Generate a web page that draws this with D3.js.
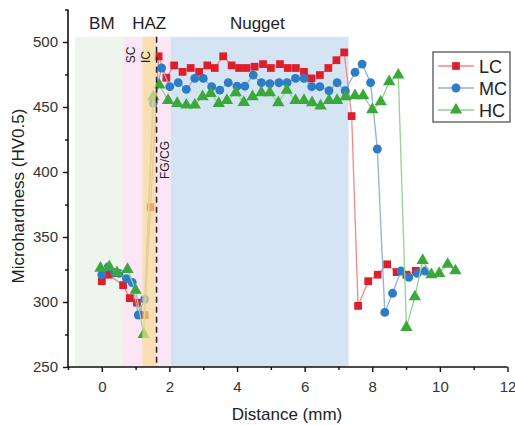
<!DOCTYPE html>
<html><head><meta charset="utf-8">
<script src="https://cdn.jsdelivr.net/npm/d3@7"></script>
<style>body{margin:0;background:#fff;} text{font-family:Arial,"Liberation Sans",sans-serif;}</style>
</head><body><svg id="c" width="515" height="425"></svg>
<script>
const lcX=[0,0.2,0.63,0.83,1.04,1.27,1.44,1.68,1.91,2.14,2.39,2.63,2.88,3.12,3.34,3.59,3.84,4.06,4.28,4.52,4.77,5.0,5.27,5.5,5.74,5.98,6.2,6.45,6.7,6.94,7.17,7.39,7.58,7.88,8.16,8.44,8.72,9.01,9.29];
const lcY=[316,321,313,303,299.5,290,373,489,472.5,482,477,480,477,482,480,489,482,480,480,481,483,480,483,480,480,477,472,474.6,480,486,492,443,297,316,321,329,323,321,324];
const mcX=[0,0.19,0.38,0.51,0.73,0.9,1.08,1.27,1.52,1.77,2.01,2.26,2.5,2.75,3.0,3.25,3.49,3.74,4.0,4.23,4.48,4.72,4.97,5.24,5.48,5.73,5.98,6.21,6.45,6.72,6.96,7.2,7.49,7.7,7.95,8.15,8.37,8.6,8.85,9.08,9.33,9.56];
const mcY=[321,327,322.5,322,318,315,290,302,453,480,465.6,468.7,463.6,472,472,465.6,463,468.7,466,466,474.6,468.7,468,468.7,468.7,472,472,465.6,465.6,462.5,468.7,462.5,476.7,483,468.7,417.7,292,306.7,323.8,319,322,323.8];
const hcX=[-0.04,0.22,0.45,0.76,1.0,1.24,1.52,1.7,1.96,2.23,2.5,2.75,2.98,3.22,3.46,3.7,3.96,4.2,4.46,4.72,4.97,5.22,5.47,5.73,5.98,6.22,6.47,6.72,6.96,7.21,7.49,7.73,8.0,8.25,8.5,8.77,9.01,9.26,9.49,9.75,9.98,10.23,10.46];
const hcY=[326,327,322.5,325,309,275,458,467,455,452.8,451.5,451.5,458,460.5,452.8,455,461,453.6,458,461,461,453.3,463,455,455,453.3,450.8,455,455,458,458.7,458.7,448,454,469.5,474.6,280.5,304,332,321,322,329,324];
const seriesNames=["LC","MC","HC"];
const xTicks=[0,2,4,6,8,10,12];
const yTicks=[250,300,350,400,450,500];
const regionNames=["BM","HAZ","Nugget"];

const svg=d3.select("#c");
const x=d3.scaleLinear().domain([-1,12]).range([68,507.5]);
const y=d3.scaleLinear().domain([250,525]).range([367,9.5]);
const yTop=504;

const bgRegions=[
 {x0:-0.8,x1:0.62,fill:"#eef5ec"},
 {x0:0.62,x1:2.04,fill:"#fce6f6"},
 {x0:2.04,x1:7.3,fill:"#d5e4f2"}
];
svg.selectAll("rect.bg").data(bgRegions).enter().append("rect")
 .attr("x",d=>x(d.x0)).attr("width",d=>x(d.x1)-x(d.x0))
 .attr("y",y(yTop)).attr("height",y(250)-y(yTop)).attr("fill",d=>d.fill);

const series=[
 {name:"LC",xs:lcX,ys:lcY,line:"#f08a8a",fill:"#de1f2b",shape:d3.symbolSquare,size:60},
 {name:"MC",xs:mcX,ys:mcY,line:"#8fb0d8",fill:"#2e7cc6",shape:d3.symbolCircle,size:62},
 {name:"HC",xs:hcX,ys:hcY,line:"#95d095",fill:"#3aa93a",shape:d3.symbolTriangle,size:66}
];
const line=d3.line().x(d=>x(d[0])).y(d=>y(d[1]));
series.forEach(s=>{
 const pts=s.xs.map((v,i)=>[v,s.ys[i]]);
 svg.append("path").attr("d",line(pts)).attr("fill","none").attr("stroke",s.line).attr("stroke-width",1.3);
 svg.selectAll(null).data(pts).enter().append("path")
  .attr("d",d3.symbol().type(s.shape).size(s.size))
  .attr("transform",d=>`translate(${x(d[0])},${y(d[1])})`)
  .attr("fill",s.fill);
});

svg.append("rect").attr("x",x(1.2)).attr("width",x(1.6)-x(1.2))
 .attr("y",y(yTop)).attr("height",y(250)-y(yTop)).attr("fill","#f8dc95").attr("opacity",0.7);
svg.append("line").attr("x1",x(1.62)).attr("x2",x(1.62)).attr("y1",y(yTop)).attr("y2",y(250))
 .attr("stroke","#222").attr("stroke-width",1.5).attr("stroke-dasharray","6,4");

const gx=svg.append("g").attr("transform",`translate(0,${y(250)})`)
 .call(d3.axisBottom(x).tickValues(xTicks).tickSize(5).tickPadding(9));
const gxm=svg.append("g").attr("transform",`translate(0,${y(250)})`)
 .call(d3.axisBottom(x).tickValues(d3.range(-1,12,1).filter(v=>v%2!==0)).tickSize(3).tickFormat(""));
gxm.select(".domain").remove();
const gy=svg.append("g").attr("transform",`translate(${x(-1)},0)`).call(d3.axisLeft(y).tickValues(yTicks).tickSize(5).tickPadding(5));
const gym=svg.append("g").attr("transform",`translate(${x(-1)},0)`)
 .call(d3.axisLeft(y).tickValues([275,325,375,425,475,525]).tickSize(3).tickFormat(""));
gym.select(".domain").remove();
[gx,gy,gxm,gym].forEach(g=>{
 g.selectAll(".domain").attr("stroke","#111").attr("stroke-width",1.6);
 g.selectAll(".tick line").attr("stroke","#111").attr("stroke-width",1.4);
 g.selectAll(".tick text").attr("font-size",15).attr("fill","#333").attr("font-family","Arial, Liberation Sans, sans-serif");
});
gy.select(".domain").attr("d",`M0,${y(250)}V${y(525)}`);
gx.select(".domain").attr("d",`M${x(-1)},0H${x(12)}`);

svg.append("text").attr("x",287).attr("y",420).attr("text-anchor","middle").attr("font-size",17).attr("fill","#222").text("Distance (mm)");
svg.append("text").attr("transform",`translate(24,${196}) rotate(-90)`).attr("text-anchor","middle").attr("font-size",17).attr("fill","#222").text("Microhardness (HV0.5)");

const regionPos=[0,1.4,4.6];
svg.selectAll("text.reg").data(regionNames).enter().append("text")
 .attr("x",(d,i)=>x(regionPos[i])).attr("y",29).attr("text-anchor","middle")
 .attr("font-size",17).attr("fill","#222").text(d=>d);
const subLabels=[{t:"SC",x:0.86,y:55},{t:"IC",x:1.31,y:57},{t:"FG/CG",x:1.86,y:160}];
subLabels.forEach(s=>{
 svg.append("text").attr("transform",`translate(${x(s.x)+4},${s.y}) rotate(-90)`)
  .attr("text-anchor","middle").attr("font-size",12).attr("fill","#222").text(s.t);
});

const lg=svg.append("g");
lg.append("rect").attr("x",433).attr("y",52).attr("width",77).attr("height",70).attr("fill","#fff").attr("stroke","#555").attr("stroke-width",1.3);
series.forEach((s,i)=>{
 const ly=66+i*22;
 lg.append("line").attr("x1",438).attr("x2",474).attr("y1",ly).attr("y2",ly).attr("stroke",s.line).attr("stroke-width",1.3);
 lg.append("path").attr("d",d3.symbol().type(s.shape).size(s.size)).attr("transform",`translate(456,${ly})`).attr("fill",s.fill);
 lg.append("text").attr("x",479).attr("y",ly+6.5).attr("font-size",18).attr("fill","#222").text(seriesNames[i]);
});
</script></body></html>
